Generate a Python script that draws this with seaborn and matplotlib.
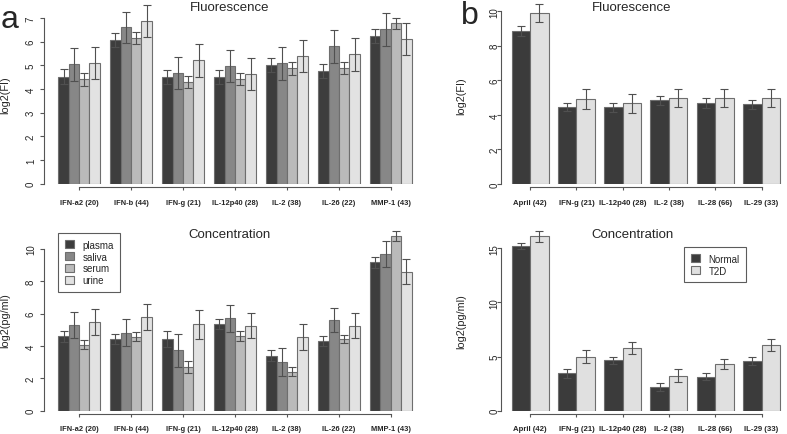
import numpy as np
import pandas as pd
import matplotlib
matplotlib.use("Agg")
import matplotlib.pyplot as plt
import seaborn as sns

# Panel a: cytokines measured in four fluids
cyto_a = ["IFN-a2 (20)", "IFN-b (44)", "IFN-g (21)", "IL-12p40 (28)",
          "IL-2 (38)", "IL-26 (22)", "MMP-1 (43)"]
fluids = ["plasma", "saliva", "serum", "urine"]

fl_a = {
    "plasma": [4.52, 6.06, 4.51, 4.51, 5.01, 4.75, 6.24],
    "saliva": [5.04, 6.61, 4.68, 4.97, 5.08, 5.80, 6.52],
    "serum":  [4.41, 6.14, 4.28, 4.42, 4.88, 4.88, 6.78],
    "urine":  [5.09, 6.87, 5.21, 4.63, 5.38, 5.47, 6.10],
}
fl_a_se = {
    "plasma": [0.31, 0.30, 0.30, 0.31, 0.31, 0.30, 0.31],
    "saliva": [0.69, 0.66, 0.69, 0.66, 0.69, 0.70, 0.69],
    "serum":  [0.27, 0.25, 0.25, 0.24, 0.27, 0.25, 0.24],
    "urine":  [0.68, 0.69, 0.70, 0.69, 0.68, 0.69, 0.68],
}
conc_a = {
    "plasma": [4.60, 4.41, 4.45, 5.36, 3.40, 4.29, 9.18],
    "saliva": [5.30, 4.83, 3.73, 5.71, 2.99, 5.63, 9.69],
    "serum":  [4.08, 4.58, 2.68, 4.64, 2.42, 4.43, 10.80],
    "urine":  [5.48, 5.80, 5.34, 5.26, 4.57, 5.26, 8.60],
}
conc_a_se = {
    "plasma": [0.33, 0.31, 0.50, 0.31, 0.35, 0.31, 0.34],
    "saliva": [0.80, 0.82, 1.03, 0.82, 0.86, 0.74, 0.82],
    "serum":  [0.29, 0.28, 0.37, 0.30, 0.29, 0.23, 0.33],
    "urine":  [0.79, 0.78, 0.88, 0.76, 0.80, 0.78, 0.78],
}

# Panel b: normal vs T2D
cyto_b = ["April (42)", "IFN-g (21)", "IL-12p40 (28)", "IL-2 (38)",
          "IL-28 (66)", "IL-29 (33)"]
groups_b = ["Normal", "T2D"]

fl_b = {
    "Normal": [8.84, 4.48, 4.44, 4.85, 4.67, 4.61],
    "T2D":    [9.88, 4.92, 4.67, 4.98, 4.98, 4.96],
}
fl_b_se = {
    "Normal": [0.29, 0.23, 0.27, 0.27, 0.29, 0.27],
    "T2D":    [0.52, 0.56, 0.56, 0.54, 0.54, 0.52],
}
conc_b = {
    "Normal": [15.24, 3.45, 4.65, 2.16, 3.14, 4.59],
    "T2D":    [16.11, 4.99, 5.79, 3.23, 4.31, 6.04],
}
conc_b_se = {
    "Normal": [0.28, 0.40, 0.34, 0.37, 0.31, 0.40],
    "T2D":    [0.52, 0.61, 0.52, 0.59, 0.49, 0.55],
}

pal_a = {"plasma": "#3d3d3d", "saliva": "#878787",
         "serum": "#bababa", "urine": "#e2e2e2"}
pal_b = {"Normal": "#3b3b3b", "T2D": "#e0e0e0"}

sns.set_theme(style="ticks")
plt.rcParams["font.family"] = ["Liberation Sans", "DejaVu Sans"]

W, H = 787, 435
fig = plt.figure(figsize=(W / 100, H / 100), dpi=100)


def px_axes(left, bottom, width, height):
    # pixel box (from top-left) -> figure fraction
    return fig.add_axes([left / W, 1 - bottom / H, width / W, height / H])


def to_long(cats, hues, vals):
    rows = []
    for h in hues:
        for c, v in zip(cats, vals[h]):
            rows.append({"cytokine": c, "group": h, "value": v})
    return pd.DataFrame(rows)


def draw(ax, cats, hues, vals, errs, pal, xlim, ylim, yticks, ylab_pad,
         xfs, xpad):
    df = to_long(cats, hues, vals)
    sns.barplot(data=df, x="cytokine", y="value", hue="group",
                order=cats, hue_order=hues, palette=pal,
                edgecolor="#6e6e6e", linewidth=0.8, errorbar=None,
                legend=False, ax=ax)
    bars = list(ax.containers)
    for h, cont in zip(hues, bars):
        xs = [b.get_x() + b.get_width() / 2 for b in cont]
        ys = [b.get_height() for b in cont]
        ax.errorbar(xs, ys, yerr=errs[h], fmt="none", ecolor="#505050",
                    elinewidth=0.8, capsize=3, capthick=0.8)
    ax.set_xlim(*xlim)
    ax.set_ylim(*ylim)
    ax.set_yticks(yticks)
    ax.set_xlabel("")
    ax.set_ylabel("")
    for s in ["top", "right"]:
        ax.spines[s].set_visible(False)
    ax.spines["left"].set_bounds(yticks[0], yticks[-1])
    ax.spines["bottom"].set_bounds(0, len(cats) - 1)
    ax.spines["bottom"].set_position(("outward", 2.5))
    for s in ["left", "bottom"]:
        ax.spines[s].set_color("#555555")
        ax.spines[s].set_linewidth(0.8)
    ax.tick_params(axis="y", labelrotation=90, labelsize=7, length=3,
                   width=0.8, color="#555555", pad=ylab_pad)
    ax.tick_params(axis="x", labelsize=xfs, length=2.5, width=0.8,
                   color="#555555", pad=xpad)
    for t in ax.get_yticklabels():
        t.set_va("center")
    for t in ax.get_xticklabels():
        t.set_fontweight("bold")
    ax.patch.set_alpha(0)
    return bars


ax1 = px_axes(43.5, 184.7, 382.2, 181.1)
draw(ax1, cyto_a, fluids, fl_a, fl_a_se, pal_a, (-0.685, 6.67), (0, 7.65),
     list(range(0, 8)), 2.5, 5.4, 6)

ax2 = px_axes(43.5, 411.7, 382.2, 182.7)
bars2 = draw(ax2, cyto_a, fluids, conc_a, conc_a_se, pal_a, (-0.685, 6.67),
             (0, 11.3), [0, 2, 4, 6, 8, 10], 2.5, 5.4, 5)

ax3 = px_axes(501, 185, 286, 183.2)
draw(ax3, cyto_b, groups_b, fl_b, fl_b_se, pal_b, (-0.631, 5.551),
     (0, 10.6), [0, 2, 4, 6, 8, 10], -2, 5.6, 6)

ax4 = px_axes(501, 411.7, 286, 181.8)
bars4 = draw(ax4, cyto_b, groups_b, conc_b, conc_b_se, pal_b,
             (-0.631, 5.551), (0, 16.8), [0, 5, 10, 15], -2, 5.6, 5)

leg_kw = dict(fontsize=7, frameon=True, fancybox=False, handlelength=0.9,
              handleheight=0.9, handletextpad=0.9, borderpad=0.7,
              labelspacing=0.18, borderaxespad=0, loc="upper left")
lg = fig.legend([b[0] for b in bars2], fluids,
                bbox_to_anchor=(58 / W, 1 - 234 / H), **leg_kw)
lg.get_frame().set_edgecolor("#333333")
lg.get_frame().set_linewidth(0.8)
lg2 = fig.legend([b[0] for b in bars4], groups_b,
                 bbox_to_anchor=(684 / W, 1 - 248 / H), **leg_kw)
lg2.get_frame().set_edgecolor("#333333")
lg2.get_frame().set_linewidth(0.8)


def ftext(x, y, s, **kw):
    fig.text(x / W, 1 - y / H, s, **kw)


ftext(229.5, 10.7, "Fluorescence", ha="center", va="baseline", fontsize=9.5)
ftext(632, 10.7, "Fluorescence", ha="center", va="baseline", fontsize=9.5)
ftext(229.6, 237.7, "Concentration", ha="center", va="baseline", fontsize=9.5)
ftext(632.7, 238, "Concentration", ha="center", va="baseline", fontsize=9.5)

ftext(5.5, 95.6, "log2(FI)", ha="center", va="center", rotation=90, fontsize=7.8)
ftext(5.5, 321, "log2(pg/ml)", ha="center", va="center", rotation=90, fontsize=7.8)
ftext(461.7, 96.5, "log2(FI)", ha="center", va="center", rotation=90, fontsize=7.8)
ftext(461.7, 322, "log2(pg/ml)", ha="center", va="center", rotation=90, fontsize=7.8)

ftext(1.0, 28.3, "a", ha="left", va="baseline", fontsize=23)
ftext(461, 24, "b", ha="left", va="baseline", fontsize=23)

fig.savefig("out.png", dpi=100, facecolor="white")
